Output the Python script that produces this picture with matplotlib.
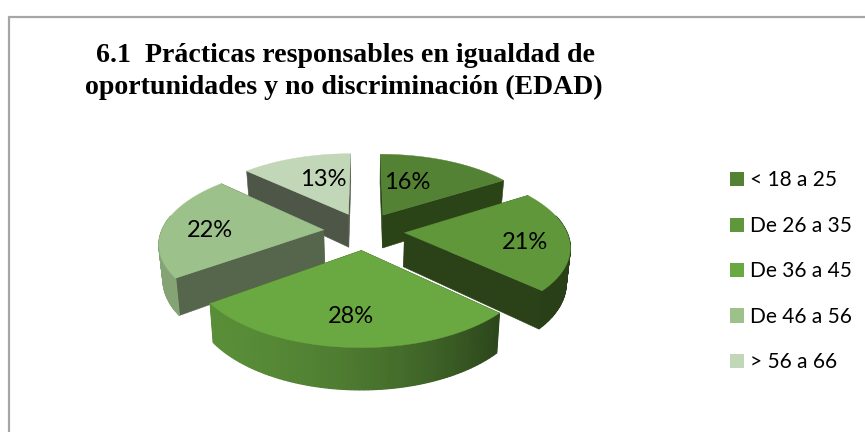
import numpy as np
import matplotlib
matplotlib.use("Agg")
import matplotlib.pyplot as plt
from matplotlib.patches import Polygon, Patch

# age groups and their shares
categories = ["< 18 a 25", "De 26 a 35", "De 36 a 45", "De 46 a 56", "> 56 a 66"]
values = [16, 21, 28, 22, 13]
title_lines = ["6.1  Prácticas responsables en igualdad de",
               "oportunidades y no discriminación (EDAD)"]

top_colors = ["#548235", "#5f973a", "#6aa842", "#9cc18b", "#c2d6b8"]
cut_colors = ["#2a4317", "#2b4218", "#2c4619", "#56664c", "#4e5647"]
label_dist = [0.62, 0.74, 0.64, 0.72, 0.62]
label_dx = [-17, -1, -3, 1, 9]
label_dy = [3, 4, 8, 4, 2]

# pie geometry, in pixels
cx, cy = 364, 231
rx, ry = 162, 75
persp = 0.157
explode = 0.25
depth = 34

#ground plane -> screen, z=1 is the underside of the pie#
def project(u, v, z=0):
	d = 1 - persp * v
	x = rx * u / d * (1 - 0.02 * z)
	y = ry * v / d + depth * z / d
	return cx + x, cy + y

#darken a colour#
def shade(color, f):
	r, g, b = matplotlib.colors.to_rgb(color)
	return (r * f, g * f, b * f)

#how dark the rim is, lighter on the left going dark to the right#
def rimFactor(u):
	t = min(max((u + 1) / 1.7, 0), 1)
	return 0.85 - 0.43 * t ** 2

def drawSlice(ax, start, end, color, cut_color, zorder):
	mid = (start + end) / 2
	ou = explode * np.sin(mid)
	ov = -explode * np.cos(mid)
	angles = np.linspace(start, end, 80)
	us = ou + np.sin(angles)
	vs = ov - np.cos(angles)

	# the two flat cuts, furthest one first
	cuts = [(us[0], vs[0]), (us[-1], vs[-1])]
	cuts.sort(key=lambda p: p[1])
	for u, v in cuts:
		face = [project(ou, ov), project(u, v), project(u, v, 1), project(ou, ov, 1)]
		ax.add_patch(Polygon(face, closed=True, fc=cut_color, ec=cut_color, lw=0.4, zorder=zorder))

	# outer rim as thin strips so it can carry a gradient
	for i in range(len(angles) - 1):
		if vs[i] + vs[i + 1] < -0.4:
			continue
		strip = [project(us[i], vs[i]), project(us[i + 1], vs[i + 1]),
		         project(us[i + 1], vs[i + 1], 1), project(us[i], vs[i], 1)]
		c = shade(color, rimFactor((us[i] + us[i + 1]) / 2))
		ax.add_patch(Polygon(strip, closed=True, fc=c, ec=c, lw=0.9, zorder=zorder + 1))

	top = [project(ou, ov)] + [project(u, v) for u, v in zip(us, vs)]
	ax.add_patch(Polygon(top, closed=True, fc=color, ec=color, lw=0.3, zorder=zorder + 2))
	return ou, ov, mid

fig = plt.figure(figsize=(8.65, 4.32), dpi=100)
ax = fig.add_axes([0, 0, 1, 1])
ax.set_xlim(0, 865)
ax.set_ylim(432, 0)
ax.axis("off")

# chart frame, open at the right and bottom edges of the canvas
ax.plot([8.5, 8.5, 865], [433, 17, 17], color="#a6a6a6", lw=1.6, solid_joinstyle="miter")

ax.text(345, 62, title_lines[0], family="Liberation Serif", weight="bold", fontsize=20.1,
        ha="center", va="baseline", color="black")
ax.text(344, 94, title_lines[1], family="Liberation Serif", weight="bold", fontsize=20.1,
        ha="center", va="baseline", color="black")

edges = np.cumsum([0] + values) / sum(values) * 2 * np.pi
order = [4, 0, 3, 1, 2]	#back to front
for i in order:
	ou, ov, mid = drawSlice(ax, edges[i], edges[i + 1], top_colors[i], cut_colors[i], 10 + 5 * order.index(i))
	lx, ly = project(ou + label_dist[i] * np.sin(mid), ov - label_dist[i] * np.cos(mid))
	ax.text(lx + label_dx[i], ly + label_dy[i], f"{values[i]}%", family="Lato", fontsize=17,
	        ha="center", va="center", color="black", zorder=50)

handles = [Patch(fc=c, ec=c, lw=0) for c in top_colors]
ax.legend(handles, categories, loc="upper left", bbox_to_anchor=(730 / 865, 1 - 170.5 / 432),
          frameon=False, prop={"family": "Lato", "size": 15}, handlelength=0.67, handleheight=0.67,
          handletextpad=0.29, labelspacing=1.22, borderpad=0, borderaxespad=0)

plt.savefig("out.png", dpi=100)
